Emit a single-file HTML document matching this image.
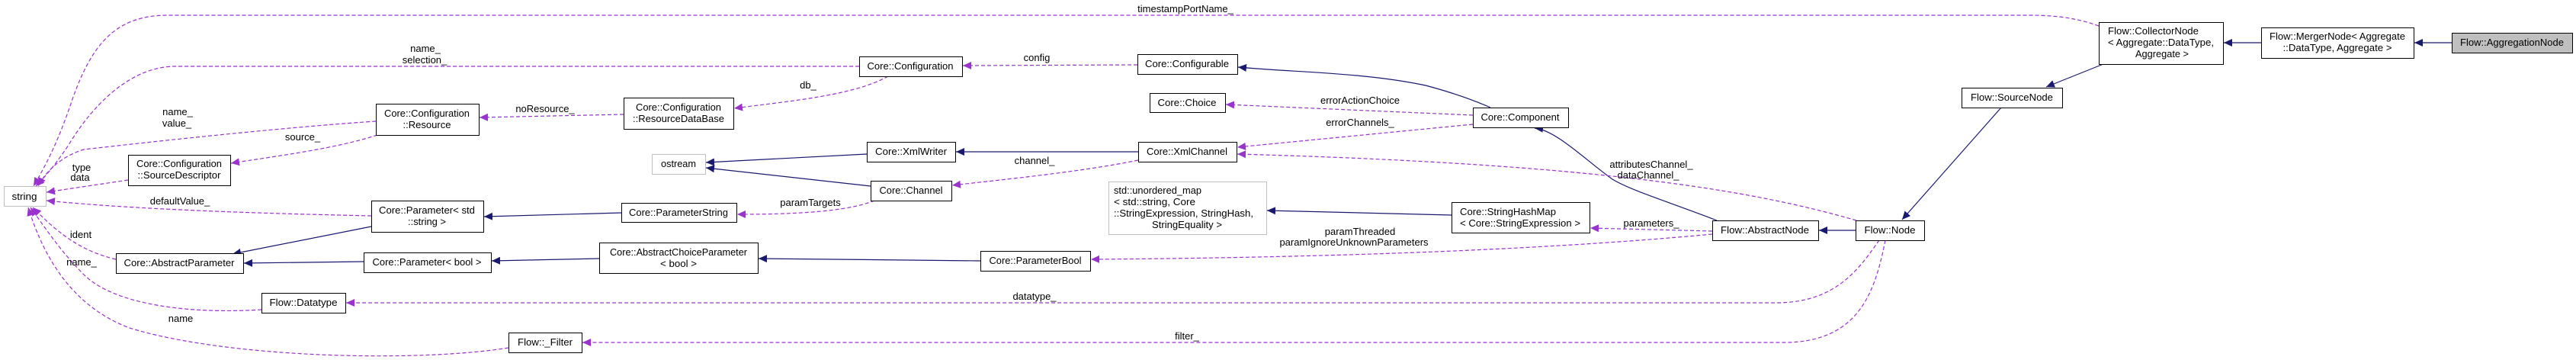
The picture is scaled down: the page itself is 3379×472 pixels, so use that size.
<!DOCTYPE html>
<html><head><meta charset="utf-8"><style>
html,body{margin:0;padding:0;background:#fff;}
svg{display:block;}
text{font-family:"Liberation Sans",Arial,sans-serif;font-size:13px;fill:#000;}
.b{fill:#fff;stroke:#000;stroke-width:1;}
.g{fill:#fff;stroke:#bfbfbf;stroke-width:1;}
.s{fill:none;stroke:#191970;stroke-width:1.2;}
.d{fill:none;stroke:#9a32cd;stroke-width:1.2;stroke-dasharray:5,3;}
</style></head><body>
<svg width="3379" height="472" viewBox="0 0 3379 472" xmlns="http://www.w3.org/2000/svg">
<defs>
<marker id="an" markerUnits="userSpaceOnUse" markerWidth="12" markerHeight="10" refX="11" refY="5" orient="auto"><path d="M0,0 L11,5 L0,10 z" fill="#191970"/></marker>
<marker id="ap" markerUnits="userSpaceOnUse" markerWidth="12" markerHeight="10" refX="11" refY="5" orient="auto"><path d="M0,0 L11,5 L0,10 z" fill="#9a32cd"/></marker>
</defs>

<!-- solid edges -->
<g class="s" marker-end="url(#an)">
<path class="s" d="M2966,56 L2917,56" marker-end="url(#an)"/>
<path class="s" d="M3216,56 L3167,56" marker-end="url(#an)"/>
<path class="s" d="M2759,84 L2684,114" marker-end="url(#an)"/>
<path class="s" d="M2625,141 L2495,288" marker-end="url(#an)"/>
<path class="s" d="M2434,302 L2386,302" marker-end="url(#an)"/>
<path class="s" d="M2252,289 C2190,265 2140,250 2115,235 C2080,210 2040,170 2013,168" marker-end="url(#an)"/>
<path class="s" d="M1955,141 C1930,130 1900,120 1870,112 C1790,95 1700,95 1624,88" marker-end="url(#an)"/>
<path class="s" d="M1493,199 L1254,199" marker-end="url(#an)"/>
<path class="s" d="M1137,202 L926,213" marker-end="url(#an)"/>
<path class="s" d="M1142,244 L926,220" marker-end="url(#an)"/>
<path class="s" d="M1904,282 L1662,276" marker-end="url(#an)"/>
<path class="s" d="M1286,342 L995,339" marker-end="url(#an)"/>
<path class="s" d="M786,339 L645,342" marker-end="url(#an)"/>
<path class="s" d="M477,343 L320,345" marker-end="url(#an)"/>
<path class="s" d="M487,297 L305,333" marker-end="url(#an)"/>
<path class="s" d="M815,279 L635,284" marker-end="url(#an)"/>
</g>

<!-- dashed edges -->
<g>
<path class="d" d="M2753,34 C2720,22 2690,20 2660,20 L220,20 C150,20 120,60 95,130 C75,190 58,220 44,244" marker-end="url(#ap)"/>
<path class="d" d="M1127,87 L230,87 C170,87 120,140 90,190 C70,220 56,235 47,244" marker-end="url(#ap)"/>
<path class="d" d="M493,159 C400,165 250,180 110,196 C80,205 60,225 50,244" marker-end="url(#ap)"/>
<path class="d" d="M495,177 C440,195 360,205 303,214" marker-end="url(#ap)"/>
<path class="d" d="M818,150 L629,154" marker-end="url(#ap)"/>
<path class="d" d="M1165,100 C1120,125 1040,132 963,142" marker-end="url(#ap)"/>
<path class="d" d="M1492,85 L1263,86" marker-end="url(#ap)"/>
<path class="d" d="M1932,151 L1608,137" marker-end="url(#ap)"/>
<path class="d" d="M1932,163 L1623,193" marker-end="url(#ap)"/>
<path class="d" d="M2435,289 C2300,250 2100,215 1623,202" marker-end="url(#ap)"/>
<path class="d" d="M1493,210 C1420,225 1320,235 1249,243" marker-end="url(#ap)"/>
<path class="d" d="M1147,263 C1110,278 1040,281 967,281" marker-end="url(#ap)"/>
<path class="d" d="M168,236 L61,252" marker-end="url(#ap)"/>
<path class="d" d="M487,283 C350,280 180,275 61,263" marker-end="url(#ap)"/>
<path class="d" d="M152,340 C110,330 80,310 43,272" marker-end="url(#ap)"/>
<path class="d" d="M343,406 C250,412 150,400 110,360 C80,330 60,300 40,272" marker-end="url(#ap)"/>
<path class="d" d="M667,456 C550,475 300,470 170,430 C90,400 55,330 37,272" marker-end="url(#ap)"/>
<path class="d" d="M2246,303 L2086,299" marker-end="url(#ap)"/>
<path class="d" d="M2246,307 C2000,330 1700,338 1431,340" marker-end="url(#ap)"/>
<path class="d" d="M2465,315 C2440,350 2410,397 2330,397 L454,397" marker-end="url(#ap)"/>
<path class="d" d="M2473,315 C2460,380 2440,449 2340,449 L764,449" marker-end="url(#ap)"/>
</g>

<!-- nodes -->
<rect class="g" x="5.5" y="244.5" width="55" height="26"/>
<text x="32" y="262" text-anchor="middle" textLength="33" lengthAdjust="spacingAndGlyphs">string</text>

<rect class="b" x="493.5" y="136.5" width="135" height="41"/>
<text x="560" y="153" text-anchor="middle" textLength="112" lengthAdjust="spacingAndGlyphs">Core::Configuration</text>
<text x="560" y="168" text-anchor="middle" textLength="63" lengthAdjust="spacingAndGlyphs">::Resource</text>

<rect class="b" x="168.5" y="203.5" width="134" height="40"/>
<text x="235" y="219" text-anchor="middle" textLength="112" lengthAdjust="spacingAndGlyphs">Core::Configuration</text>
<text x="235" y="234" text-anchor="middle" textLength="109" lengthAdjust="spacingAndGlyphs">::SourceDescriptor</text>

<rect class="b" x="487.5" y="263.5" width="147" height="41"/>
<text x="560" y="280" text-anchor="middle" textLength="126" lengthAdjust="spacingAndGlyphs">Core::Parameter&lt; std</text>
<text x="560" y="295" text-anchor="middle" textLength="50" lengthAdjust="spacingAndGlyphs">::string &gt;</text>

<rect class="b" x="152.5" y="332.5" width="167" height="26"/>
<text x="235" y="349" text-anchor="middle" textLength="145" lengthAdjust="spacingAndGlyphs">Core::AbstractParameter</text>

<rect class="b" x="477.5" y="331.5" width="167" height="26"/>
<text x="560" y="348" text-anchor="middle" textLength="143" lengthAdjust="spacingAndGlyphs">Core::Parameter&lt; bool &gt;</text>

<rect class="b" x="343.5" y="384.5" width="110" height="26"/>
<text x="398" y="401" text-anchor="middle" textLength="89" lengthAdjust="spacingAndGlyphs">Flow::Datatype</text>

<rect class="b" x="667.5" y="436.5" width="96" height="26"/>
<text x="715" y="453" text-anchor="middle" textLength="72" lengthAdjust="spacingAndGlyphs">Flow::_Filter</text>

<rect class="b" x="1127.5" y="74.5" width="135" height="26"/>
<text x="1194" y="91" text-anchor="middle" textLength="113" lengthAdjust="spacingAndGlyphs">Core::Configuration</text>

<rect class="b" x="818.5" y="128.5" width="144" height="41"/>
<text x="890" y="145" text-anchor="middle" textLength="112" lengthAdjust="spacingAndGlyphs">Core::Configuration</text>
<text x="890" y="160" text-anchor="middle" textLength="120" lengthAdjust="spacingAndGlyphs">::ResourceDataBase</text>

<rect class="b" x="1492.5" y="71.5" width="131" height="26"/>
<text x="1557" y="88" text-anchor="middle" textLength="110" lengthAdjust="spacingAndGlyphs">Core::Configurable</text>

<rect class="b" x="1508.5" y="122.5" width="99" height="25"/>
<text x="1557" y="139" text-anchor="middle" textLength="77" lengthAdjust="spacingAndGlyphs">Core::Choice</text>

<rect class="g" x="855.5" y="202.5" width="70" height="26"/>
<text x="890" y="219" text-anchor="middle" textLength="46" lengthAdjust="spacingAndGlyphs">ostream</text>

<rect class="b" x="1137.5" y="186.5" width="116" height="26"/>
<text x="1195" y="203" text-anchor="middle" textLength="94" lengthAdjust="spacingAndGlyphs">Core::XmlWriter</text>

<rect class="b" x="1493.5" y="186.5" width="129" height="26"/>
<text x="1557" y="203" text-anchor="middle" textLength="106" lengthAdjust="spacingAndGlyphs">Core::XmlChannel</text>

<rect class="b" x="1142.5" y="237.5" width="106" height="26"/>
<text x="1195" y="254" text-anchor="middle" textLength="83" lengthAdjust="spacingAndGlyphs">Core::Channel</text>

<rect class="b" x="815.5" y="266.5" width="151" height="25"/>
<text x="890" y="283" text-anchor="middle" textLength="130" lengthAdjust="spacingAndGlyphs">Core::ParameterString</text>

<rect class="b" x="786.5" y="318.5" width="208" height="40"/>
<text x="890" y="335" text-anchor="middle" textLength="180" lengthAdjust="spacingAndGlyphs">Core::AbstractChoiceParameter</text>
<text x="890" y="350" text-anchor="middle" textLength="48" lengthAdjust="spacingAndGlyphs">&lt; bool &gt;</text>

<rect class="b" x="1286.5" y="329.5" width="144" height="26"/>
<text x="1358" y="346" text-anchor="middle" textLength="121" lengthAdjust="spacingAndGlyphs">Core::ParameterBool</text>

<rect class="g" x="1454.5" y="238.5" width="207" height="69"/>
<text x="1461" y="254" textLength="115" lengthAdjust="spacingAndGlyphs">std::unordered_map</text>
<text x="1461" y="269" textLength="107" lengthAdjust="spacingAndGlyphs">&lt; std::string, Core</text>
<text x="1461" y="284" textLength="183" lengthAdjust="spacingAndGlyphs">::StringExpression, StringHash,</text>
<text x="1557" y="299" text-anchor="middle" textLength="92" lengthAdjust="spacingAndGlyphs">StringEquality &gt;</text>

<rect class="b" x="1932.5" y="141.5" width="125" height="26"/>
<text x="1994" y="158" text-anchor="middle" textLength="103" lengthAdjust="spacingAndGlyphs">Core::Component</text>

<rect class="b" x="1904.5" y="265.5" width="181" height="40"/>
<text x="1915" y="282" textLength="126" lengthAdjust="spacingAndGlyphs">Core::StringHashMap</text>
<text x="1915" y="297" textLength="158" lengthAdjust="spacingAndGlyphs">&lt; Core::StringExpression &gt;</text>

<rect class="b" x="2246.5" y="289.5" width="139" height="26"/>
<text x="2315" y="306" text-anchor="middle" textLength="116" lengthAdjust="spacingAndGlyphs">Flow::AbstractNode</text>

<rect class="b" x="2434.5" y="289.5" width="90" height="26"/>
<text x="2479" y="306" text-anchor="middle" textLength="67" lengthAdjust="spacingAndGlyphs">Flow::Node</text>

<rect class="b" x="2753.5" y="29.5" width="163" height="55"/>
<text x="2765" y="45" textLength="119" lengthAdjust="spacingAndGlyphs">Flow::CollectorNode</text>
<text x="2765" y="60" textLength="139" lengthAdjust="spacingAndGlyphs">&lt; Aggregate::DataType,</text>
<text x="2836" y="75" text-anchor="middle" textLength="70" lengthAdjust="spacingAndGlyphs">Aggregate &gt;</text>

<rect class="b" x="2966.5" y="36.5" width="200" height="40"/>
<text x="3066" y="52" text-anchor="middle" textLength="178" lengthAdjust="spacingAndGlyphs">Flow::MergerNode&lt; Aggregate</text>
<text x="3066" y="67" text-anchor="middle" textLength="143" lengthAdjust="spacingAndGlyphs">::DataType, Aggregate &gt;</text>

<rect x="3216.5" y="43.5" width="158" height="26" fill="#bfbfbf" stroke="#000"/>
<text x="3295" y="60" text-anchor="middle" textLength="136" lengthAdjust="spacingAndGlyphs">Flow::AggregationNode</text>

<rect class="b" x="2573.5" y="115.5" width="132" height="26"/>
<text x="2639" y="132" text-anchor="middle" textLength="108" lengthAdjust="spacingAndGlyphs">Flow::SourceNode</text>

<!-- edge labels -->
<g text-anchor="middle">
<text x="1555" y="16">timestampPortName_</text>
<text x="558" y="68">name_</text>
<text x="557" y="83">selection_</text>
<text x="233" y="151">name_</text>
<text x="232" y="166">value_</text>
<text x="397" y="184">source_</text>
<text x="715" y="147">noResource_</text>
<text x="107" y="224">type</text>
<text x="105" y="237">data</text>
<text x="236" y="268">defaultValue_</text>
<text x="106" y="312">ident</text>
<text x="107" y="348">name_</text>
<text x="237" y="422">name</text>
<text x="1360" y="80">config</text>
<text x="1060" y="116">db_</text>
<text x="1357" y="215">channel_</text>
<text x="1063" y="270">paramTargets</text>
<text x="1357" y="393">datatype_</text>
<text x="1557" y="445">filter_</text>
<text x="1784" y="136">errorActionChoice</text>
<text x="1784" y="165">errorChannels_</text>
<text x="2166" y="220">attributesChannel_</text>
<text x="2162" y="234">dataChannel_</text>
<text x="2166" y="297">parameters_</text>
<text x="1784" y="308">paramThreaded</text>
<text x="1776" y="322">paramIgnoreUnknownParameters</text>
</g>
</svg>
</body></html>
